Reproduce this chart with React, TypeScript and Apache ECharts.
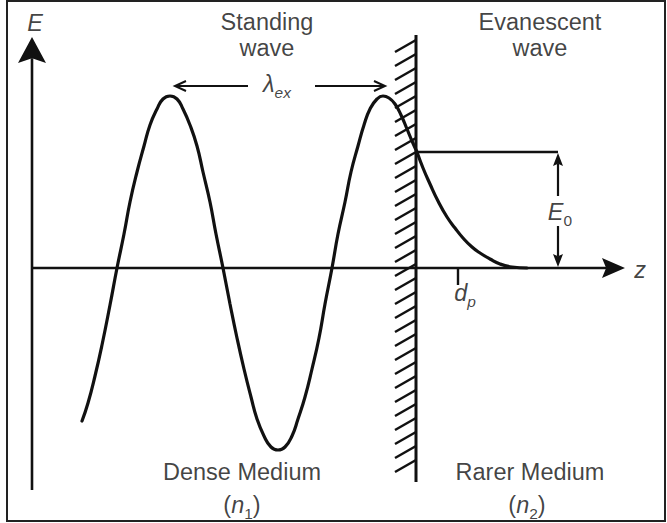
import React, { useEffect, useRef } from 'react';
import * as echarts from 'echarts';

const FONT = '"Liberation Sans", Arial, Helvetica, sans-serif';
const INK = '#111111';

// Picture units: x grows to the right, y grows downward (frame 7..665 x 1..521)
// Standing wave in the dense medium
const standingWave: [number, number][] = [
  [82, 421], [88, 403], [95, 376], [102, 345], [110, 305], [117, 268],
  [124, 234], [130, 202], [137, 172], [144, 146], [150, 125], [157, 109], [163, 99], [170, 96],
  [177, 99], [183, 109], [190, 125], [197, 146], [203, 172], [210, 202], [216, 234], [223, 268],
  [230, 304], [237, 338], [244, 369], [251, 397], [257, 419], [264, 436], [271, 447], [278, 450],
  [285, 447], [292, 436], [298, 419], [305, 397], [312, 369], [319, 338], [325, 304], [332, 268],
  [338, 234], [345, 202], [351, 172], [358, 146], [364, 125], [370, 109], [377, 99], [383, 96],
  [389, 98], [395, 104], [401, 115], [407, 129], [412, 141], [417, 152],
];

// Evanescent (exponentially decaying) field in the rarer medium
const evanescentWave: [number, number][] = [
  [417, 152], [423, 168], [430, 184], [438, 201], [447, 217], [455, 228],
  [463, 238], [472, 247], [480, 253], [490, 259], [500, 264], [512, 267],
  [527, 268],
];

// Arrows: [x1, y1, tipX, tipY, headLength, headHalfWidth, lineWidth, kind(1 filled, 2 open)]
const axisArrows: number[][] = [
  [32, 490, 32, 37, 26, 14, 2.6, 1],   // E axis
  [32, 268, 625, 268, 23, 10, 2.6, 1], // z axis
];
const dimensionArrows: number[][] = [
  [248, 86, 175, 86, 11, 5, 2, 2],     // lambda, left
  [315, 86, 385, 86, 11, 5, 2, 2],     // lambda, right
  [558, 196, 558, 153, 13, 5, 2.2, 1], // E0, up
  [558, 226, 558, 267, 13, 5, 2.2, 1], // E0, down
];
// Plain segments: [x1, y1, x2, y2, lineWidth]
const plainSegments: number[][] = [
  [416, 35, 416, 482, 3],    // interface wall
  [416, 152, 558, 152, 2.4], // E0 level
  [458, 268, 458, 285, 2.4], // d_p tick
];
// Hatch marks on the wall (y of the right end of each hatch)
const hatchRightY: number[] = [
  40, 54, 68, 82, 96, 110, 124, 138, 152, 166, 180, 194, 208, 222, 236, 250,
  264, 278, 292, 306, 320, 334, 348, 362, 376, 390, 404, 418, 432, 446, 460,
];

const labelTexts: string[] = [
  '{i|E}',
  'Standing\nwave',
  'Evanescent\nwave',
  '{i|λ}{si|ex}',
  '{i|E}{s|0}',
  '{i|d}{si|p}',
  '{i|z}',
  'Dense Medium',
  '{n|(}{i|n}{s|1}{n|)}',
  'Rarer Medium',
  '{n|(}{i|n}{s|2}{n|)}',
];
const labelPositions: [number, number][] = [
  [35, 23], [267, 35], [540, 35], [277, 84], [560, 212], [465, 293],
  [640, 270], [242, 472], [242, 505], [530, 472], [527, 505],
];

export default function App() {
  const ref = useRef<HTMLDivElement>(null);

  useEffect(() => {
    if (!ref.current) return;
    const chart = echarts.init(ref.current, undefined, { renderer: 'svg' });

    const segData: number[][] = [
      ...plainSegments.map((s) => [s[0], s[1], s[2], s[3], 0, 0, s[4], 0]),
      ...hatchRightY.map((y) => [395, y + 12, 416, y, 0, 0, 2.4, 0]),
      ...axisArrows,
      ...dimensionArrows,
    ];

    const renderItem = (_params: any, api: any) => {
      const a = api.coord([api.value(0), api.value(1)]);
      const b = api.coord([api.value(2), api.value(3)]);
      const len = api.value(4);
      const hw = api.value(5);
      const lw = api.value(6);
      const kind = api.value(7);
      if (!kind) {
        return {
          type: 'line',
          shape: { x1: a[0], y1: a[1], x2: b[0], y2: b[1] },
          style: { stroke: INK, lineWidth: lw, lineCap: 'butt' },
        };
      }
      const dx = b[0] - a[0];
      const dy = b[1] - a[1];
      const d = Math.hypot(dx, dy) || 1;
      const ux = dx / d;
      const uy = dy / d;
      const nx = -uy;
      const ny = ux;
      const base = [b[0] - ux * len, b[1] - uy * len];
      const left = [base[0] + nx * hw, base[1] + ny * hw];
      const right = [base[0] - nx * hw, base[1] - ny * hw];
      if (kind === 1) {
        const notch = [b[0] - ux * len * 0.82, b[1] - uy * len * 0.82];
        return {
          type: 'group',
          children: [
            { type: 'line', shape: { x1: a[0], y1: a[1], x2: notch[0], y2: notch[1] }, style: { stroke: INK, lineWidth: lw } },
            { type: 'polygon', shape: { points: [b, left, notch, right] }, style: { fill: INK } },
          ],
        };
      }
      return {
        type: 'group',
        children: [
          { type: 'line', shape: { x1: a[0], y1: a[1], x2: b[0], y2: b[1] }, style: { stroke: INK, lineWidth: lw } },
          { type: 'polyline', shape: { points: [left, b, right] }, style: { stroke: INK, lineWidth: lw, fill: 'none', lineJoin: 'miter' } },
        ],
      };
    };

    const rich = {
      n: { fontFamily: FONT, fontSize: 23.5, color: INK, lineHeight: 32 },
      i: { fontFamily: FONT, fontSize: 23.5, fontStyle: 'italic', color: INK, lineHeight: 32 },
      s: { fontFamily: FONT, fontSize: 15.5, color: INK, lineHeight: 18, verticalAlign: 'bottom' },
      si: { fontFamily: FONT, fontSize: 15.5, fontStyle: 'italic', color: INK, lineHeight: 18, verticalAlign: 'bottom' },
    };

    chart.setOption({
      animation: false,
      backgroundColor: '#ffffff',
      grid: {
        left: 7, right: 2, top: 1, bottom: 2,
        show: true, borderColor: '#222222', borderWidth: 2, backgroundColor: '#ffffff',
      },
      xAxis: { type: 'value', min: 7, max: 665, show: false },
      yAxis: { type: 'value', min: 1, max: 521, inverse: true, show: false },
      series: [
        {
          type: 'custom',
          name: 'geometry',
          silent: true,
          renderItem,
          data: segData,
          z: 2,
        },
        {
          type: 'line',
          name: 'standing wave',
          data: standingWave,
          smooth: 0.5,
          symbol: 'none',
          silent: true,
          lineStyle: { color: INK, width: 3.2, cap: 'round' },
          z: 3,
        },
        {
          type: 'line',
          name: 'evanescent wave',
          data: evanescentWave,
          smooth: 0.5,
          symbol: 'none',
          silent: true,
          lineStyle: { color: INK, width: 3.2, cap: 'round' },
          z: 3,
        },
        {
          type: 'scatter',
          name: 'labels',
          silent: true,
          symbolSize: 0,
          z: 5,
          data: labelPositions.map((p, i) => ({ value: p, label: { formatter: labelTexts[i] } })),
          label: {
            show: true,
            position: 'inside',
            fontFamily: FONT,
            fontSize: 23.5,
            lineHeight: 26,
            color: INK,
            rich,
          },
        },
      ],
    });

    return () => chart.dispose();
  }, []);

  return (
    <div
      ref={ref}
      style={{ position: 'fixed', left: 0, top: 0, width: 667, height: 523, background: '#fff' }}
    />
  );
}
